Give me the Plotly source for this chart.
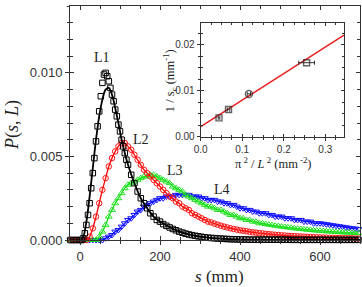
import plotly.graph_objects as go

# ---------------- data ----------------
S_FINE = list(range(-24, 0, 8)) + list(range(0, 120, 4)) + list(range(120, 700, 8))
S_COARSE = list(range(-24, 700, 8))

P_L1 = [0, 0, 0,
        0, 0, 0.0001, 0.0004, 0.0009, 0.0015, 0.0022, 0.0031, 0.0040, 0.0049,
        0.0059, 0.0068, 0.0077, 0.0086, 0.0094, 0.0099, 0.0100, 0.0098, 0.0095, 0.0091,
        0.0087, 0.0083, 0.0078, 0.0074, 0.0069, 0.0065, 0.0060, 0.0056, 0.0052, 0.0048,
        0.0045, 0.0039, 0.0034, 0.0029, 0.0025, 0.0022, 0.0019, 0.0016, 0.0014, 0.0012,
        0.0011, 0.00095, 0.00085, 0.00075, 0.00066, 0.00058, 0.00050, 0.00044, 0.00038, 0.00033,
        0.00029, 0.00025, 0.00022, 0.00019, 0.00016, 0.00014, 0.00012, 0.00011, 0.00009, 0.00008,
        0.00007, 0.00006, 0.00005, 0.00004, 0.00004, 0.00003, 0.00003, 0.00003, 0.00002, 0.00002,
        0.00002, 0.00002, 0.00002, 0.00002, 0.00002, 0.00002, 0.00002, 0.00002, 0.00002, 0.00002, 0.00002,
        0.00001, 0.00001, 0.00001, 0.00001, 0.00001, 0.00001, 0.00001, 0.00001, 0.00001, 0.00001, 0.00001,
        0.00001, 0.00001, 0.00001, 0.00001, 0.00001, 0.00001, 0.00001, 0.00001, 0.00001, 0.00001, 0.00001]

L1_FIT_S = [-24, 0, 8, 16, 24, 32, 40, 48, 56, 64, 72, 80, 88, 96, 104, 112, 120, 136, 152,
            168, 184, 200, 240, 280, 320, 400, 500, 600, 700]
L1_FIT_P = [0, 0, 0.0002, 0.0011, 0.0026, 0.0043, 0.0060, 0.0074, 0.0084, 0.0090, 0.0091,
            0.0087, 0.0079, 0.0070, 0.0060, 0.0052, 0.0045, 0.0034, 0.0025, 0.0019, 0.0014,
            0.0011, 0.00058, 0.00029, 0.00014, 0.00003, 0.00001, 0.00001, 0.00001]

P_L2 = [0, 0, 0, 0, 0, 0,
        0.0002, 0.0007, 0.0014, 0.0022, 0.0030, 0.0037, 0.0044, 0.0049, 0.0053, 0.0056,
        0.0058, 0.0058, 0.0056, 0.0054, 0.0051, 0.0048, 0.0045, 0.0042, 0.0040, 0.0038,
        0.0036, 0.0034, 0.0032, 0.0030, 0.0028, 0.0026, 0.0025, 0.0023, 0.0022, 0.0020,
        0.0019, 0.0018, 0.0016, 0.0015, 0.0014, 0.0013, 0.0012, 0.0011, 0.00105, 0.00098,
        0.00092, 0.00086, 0.00080, 0.00075, 0.00070, 0.00066, 0.00062, 0.00058, 0.00055, 0.00052,
        0.00049, 0.00046, 0.00044, 0.00041, 0.00039, 0.00037, 0.00035, 0.00033, 0.00031, 0.00030,
        0.00028, 0.00027, 0.00025, 0.00024, 0.00023, 0.00022, 0.00021, 0.00020, 0.00019, 0.00018,
        0.00017, 0.00016, 0.00015, 0.00015, 0.00014, 0.00013, 0.00013, 0.00012, 0.00012, 0.00011,
        0.00011, 0.00010, 0.00010, 0.00009, 0.00009]

P_L3 = [0, 0, 0, 0, 0, 0, 0, 0, 0,
        0.0002, 0.0005, 0.0009, 0.0014, 0.0018, 0.0022, 0.0025, 0.0028, 0.0031, 0.0033,
        0.0034, 0.0035, 0.0036, 0.0037, 0.0038, 0.0038, 0.0039, 0.0039, 0.0038, 0.0037,
        0.0036, 0.0035, 0.0034, 0.0032, 0.0031, 0.0030, 0.0029, 0.0027, 0.0026, 0.0025,
        0.0024, 0.0023, 0.0022, 0.0021, 0.0020, 0.0020, 0.0019, 0.0018, 0.0018, 0.0017,
        0.0016, 0.0015, 0.0015, 0.0014, 0.0013, 0.0013, 0.0012, 0.0012, 0.0011, 0.0011,
        0.0010, 0.0010, 0.00096, 0.00092, 0.00089, 0.00086, 0.00083, 0.00080, 0.00078, 0.00075,
        0.00073, 0.00070, 0.00068, 0.00066, 0.00064, 0.00062, 0.00060, 0.00058, 0.00057, 0.00055,
        0.00054, 0.00052, 0.00051, 0.00050, 0.00048, 0.00047, 0.00046, 0.00045, 0.00044, 0.00043,
        0.00042, 0.00041]

P_L4 = [0, 0, 0, 0, 0, 0, 0, 0, 0, 0, 0,
        0.0001, 0.0002, 0.0003, 0.0005, 0.0006, 0.0008, 0.0010, 0.0012, 0.0013, 0.0015,
        0.0017, 0.0018, 0.0020, 0.0021, 0.0022, 0.0023, 0.0024, 0.0025, 0.0025, 0.0026,
        0.0026, 0.0026, 0.0027, 0.0027, 0.0027, 0.0027, 0.0027, 0.0026, 0.0026, 0.0026,
        0.0025, 0.0025, 0.0024, 0.0024, 0.0024, 0.0023, 0.0023, 0.0022, 0.0022, 0.0021,
        0.0021, 0.0020, 0.0019, 0.0019, 0.0018, 0.0018, 0.0017, 0.0017, 0.0016, 0.0016,
        0.0016, 0.0015, 0.0015, 0.0014, 0.0014, 0.0014, 0.0013, 0.0013, 0.0013, 0.0012,
        0.0012, 0.0012, 0.0011, 0.0011, 0.0011, 0.0010, 0.0010, 0.0010, 0.00097, 0.00094,
        0.00091, 0.00088, 0.00085, 0.00082, 0.00079, 0.00076, 0.00073, 0.00070, 0.00068, 0.00065]

CURVE_LABELS = ["L1", "L2", "L3", "L4"]
LABEL_S = [54, 152, 237, 354]
LABEL_P = [0.0109, 0.0060, 0.00415, 0.0030]

# inset data
PI2_OVER_L2 = [0.044, 0.067, 0.116, 0.255]
INV_SC = [0.0041, 0.0059, 0.0093, 0.0161]
PI2_ERR = [0.002, 0.003, 0.004, 0.019]
INSET_SYMBOLS = ["square-open", "square-open", "circle-open", "square-open"]
FIT_X = [0.0, 0.345]
FIT_Y = [0.0022, 0.0221]

# ---------------- figure ----------------
AX = "#333333"
SANS = "Liberation Sans, Arial, sans-serif"
SERIF = "Liberation Serif, Times New Roman, serif"

fig = go.Figure()

series = [
    (S_COARSE, P_L4, "#1010ff", "triangle-down-open", 6),
    (S_COARSE, P_L3, "#20e020", "triangle-up-open", 6),
    (S_COARSE, P_L2, "#ff1010", "circle-open", 5.5),
]
for s, p, col, sym, sz in series:
    fig.add_trace(go.Scatter(x=s, y=p, mode="lines+markers", cliponaxis=False,
                             line=dict(color=col, width=1.4, shape="spline"),
                             marker=dict(symbol=sym, size=sz, color=col, line=dict(width=1.0, color=col)),
                             showlegend=False, hoverinfo="skip"))

fig.add_trace(go.Scatter(x=S_FINE, y=P_L1, mode="markers", cliponaxis=False,
                         marker=dict(symbol="square-open", size=5.5, color="black", line=dict(width=1.0, color="black")),
                         showlegend=False, hoverinfo="skip"))
fig.add_trace(go.Scatter(x=L1_FIT_S, y=L1_FIT_P, mode="lines", cliponaxis=False,
                         line=dict(color="black", width=1.8, shape="spline"),
                         showlegend=False, hoverinfo="skip"))

# inset
fig.add_trace(go.Scatter(x=FIT_X, y=FIT_Y, mode="lines", xaxis="x2", yaxis="y2",
                         line=dict(color="#e82020", width=1.5), showlegend=False, hoverinfo="skip"))
fig.add_trace(go.Scatter(x=PI2_OVER_L2, y=INV_SC, mode="markers", xaxis="x2", yaxis="y2",
                         error_x=dict(type="data", array=PI2_ERR, color="#333", thickness=1, width=2),
                         marker=dict(symbol=INSET_SYMBOLS, size=[6, 6, 7, 6], color="#222",
                                     line=dict(width=1.4, color="#222")),
                         showlegend=False, hoverinfo="skip"))

# dummy traces for overlay axes (outside tick marks)
for xa, ya in [("x3", "y"), ("x", "y3"), ("x4", "y2"), ("x2", "y4")]:
    fig.add_trace(go.Scatter(x=[None], y=[None], xaxis=xa, yaxis=ya, showlegend=False, hoverinfo="skip"))

X_RANGE = [-25, 700]
Y_RANGE = [0, 0.014]
IX_RANGE = [0, 0.345]
IY_RANGE = [0, 0.0248]
IX_DOM = [0.4507, 0.9448]
IY_DOM = [0.4415, 0.9286]

def ax_inside(rng, dtick, mdtick, dom, anchor, tl=4, mtl=2.5):
    return dict(range=rng, domain=dom, anchor=anchor, showline=True, linecolor=AX, linewidth=1.2,
                mirror="ticks", ticks="inside", ticklen=tl, tickwidth=1.2, tickcolor=AX,
                tick0=0, dtick=dtick, showticklabels=False, showgrid=False, zeroline=False,
                minor=dict(dtick=mdtick, tick0=0, ticks="inside", ticklen=mtl, tickwidth=1, tickcolor=AX))

def ax_outside(rng, dtick, mdtick, overlay, anchor, fmt, fsize, tl=4, mtl=2.5):
    return dict(range=rng, overlaying=overlay, anchor=anchor, showline=False,
                ticks="outside", ticklen=tl, tickwidth=1.2, tickcolor=AX,
                tick0=0, dtick=dtick, tickformat=fmt, showticklabels=True,
                tickfont=dict(family=SANS, size=fsize, color=AX),
                showgrid=False, zeroline=False,
                minor=dict(dtick=mdtick, tick0=0, ticks="outside", ticklen=mtl, tickwidth=1, tickcolor=AX))

fig.update_layout(
    width=362, height=287,
    margin=dict(l=70, r=2, t=6, b=47),
    paper_bgcolor="white", plot_bgcolor="white",
    showlegend=False,
    xaxis=ax_inside(X_RANGE, 200, 50, [0, 1], "y"),
    yaxis=ax_inside(Y_RANGE, 0.005, 0.001, [0, 1], "x"),
    xaxis3=ax_outside(X_RANGE, 200, 50, "x", "y", "d", 13),
    yaxis3=ax_outside(Y_RANGE, 0.005, 0.001, "y", "x", ".3f", 13),
    xaxis2=ax_inside(IX_RANGE, 0.1, 0.025, IX_DOM, "y2", tl=3, mtl=2),
    yaxis2=ax_inside(IY_RANGE, 0.01, 0.0025, IY_DOM, "x2", tl=3, mtl=2),
    xaxis4=ax_outside(IX_RANGE, 0.1, 0.025, "x2", "y2", ".1f", 10, tl=3, mtl=2),
    yaxis4=ax_outside(IY_RANGE, 0.01, 0.0025, "y2", "x2", ".2f", 10, tl=3, mtl=2),
)
fig.layout.xaxis4.domain = IX_DOM
fig.layout.yaxis4.domain = IY_DOM
fig.layout.xaxis3.domain = [0, 1]
fig.layout.yaxis3.domain = [0, 1]

for t, sx, py in zip(CURVE_LABELS, LABEL_S, LABEL_P):
    fig.add_annotation(x=sx, y=py, xref="x", yref="y", text=t, showarrow=False,
                       xanchor="center", yanchor="middle",
                       font=dict(family=SERIF, size=14, color="#222"))

def title(x, y, text, size, angle=0):
    fig.add_annotation(x=x, y=y, xref="paper", yref="paper", text=text, textangle=angle,
                       showarrow=False, xanchor="center", yanchor="middle",
                       font=dict(family=SERIF, size=size, color="#222"))

title(-0.2, 0.491, "<i>P</i>(<i>s</i>, <i>L</i>)", 18, -90)
title(0.517, -0.155, "<i>s</i> (mm)", 17)
title(0.345, 0.679, "1 / s<sub>c</sub> (mm<sup>-1</sup>)", 12.5, -90)
title(0.70, 0.328, "π<sup> 2</sup> / <i>L</i><sup> 2</sup> (mm<sup> -2</sup>)", 12.5)

fig.write_html("out.html")
